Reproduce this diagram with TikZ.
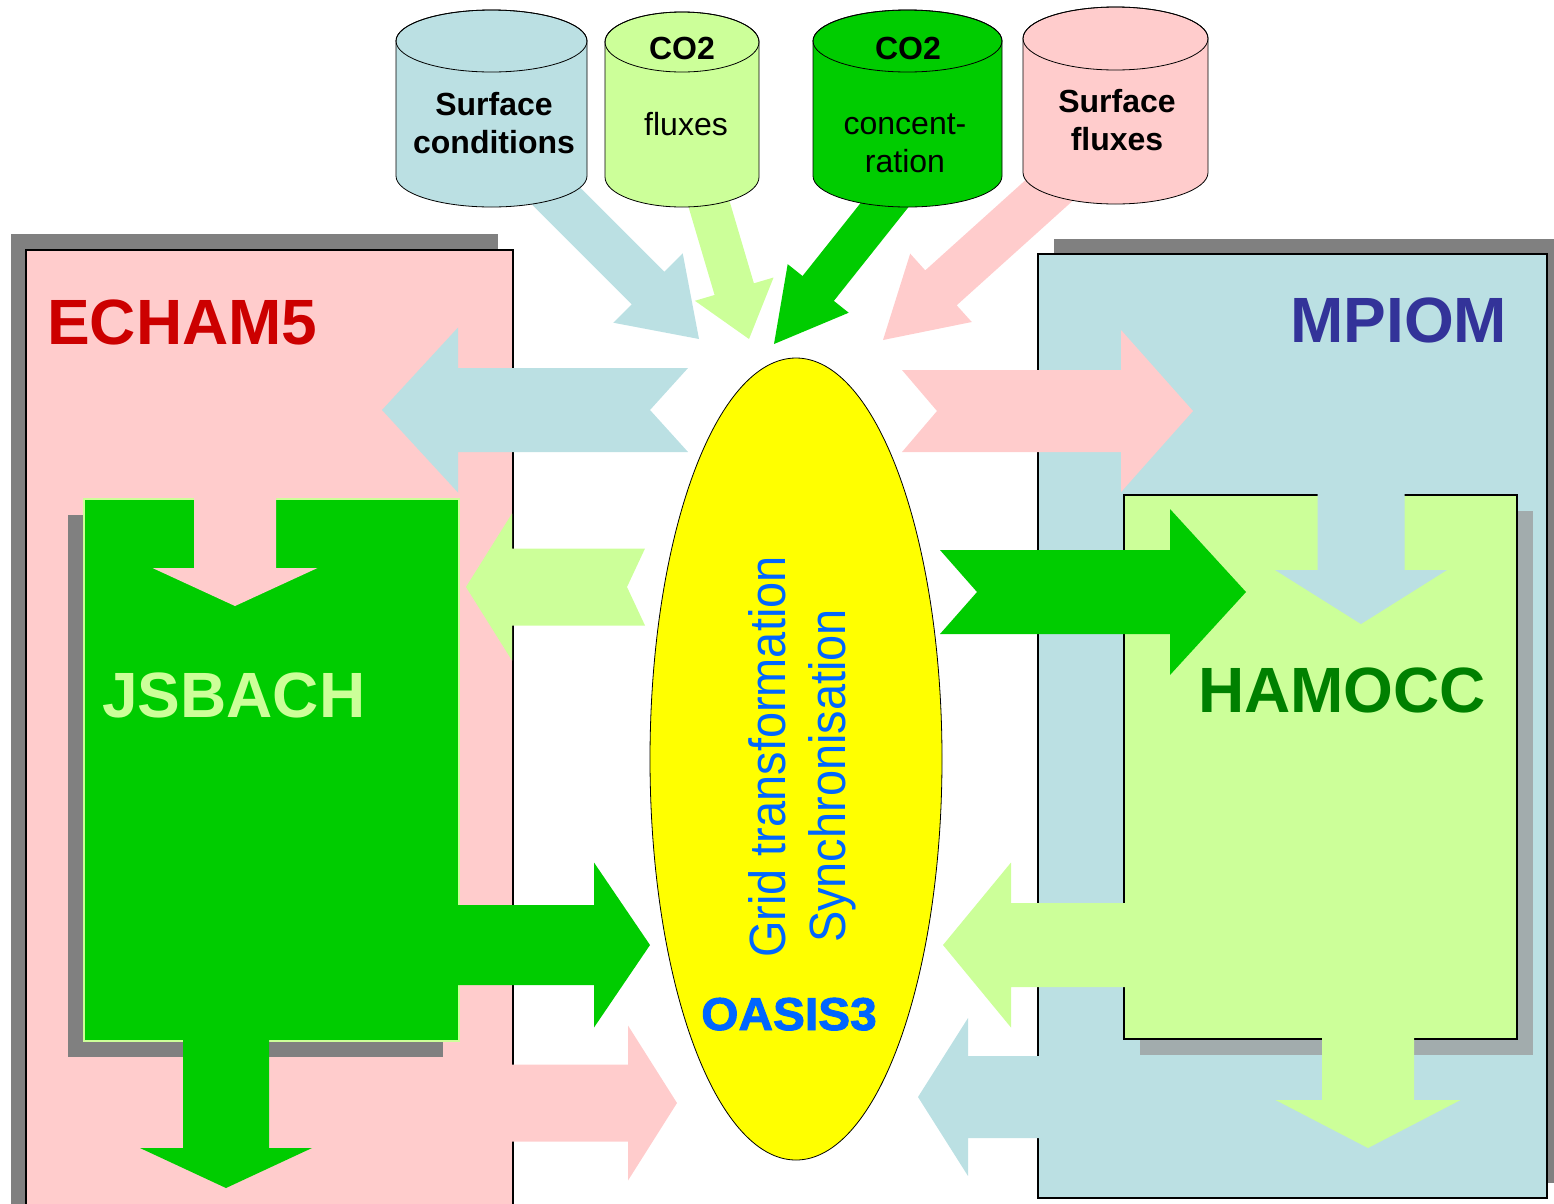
\documentclass[tikz,border=0pt]{standalone}
\usepackage{fontspec}
\setmainfont{Liberation Sans}
\newfontfamily\heavyfont[FakeBold=2]{Liberation Sans Bold}
\usepackage{tikz}
\usetikzlibrary{shapes.geometric, shadows, positioning}

\definecolor{atmo}{HTML}{FFCCCC}
\definecolor{ocean}{HTML}{BBE0E3}
\definecolor{leaf}{HTML}{CCFF99}
\definecolor{land}{HTML}{00CC00}
\definecolor{coupler}{HTML}{FFFF00}
\definecolor{shade}{HTML}{808080}
\definecolor{hamshade}{HTML}{A2ACAD}
\definecolor{echamred}{HTML}{CC0000}
\definecolor{mpiomblue}{HTML}{333399}
\definecolor{hamoccgreen}{HTML}{008000}
\definecolor{oasisblue}{HTML}{0066FF}

% fat block arrow: style, tip, angle, length, shaft half, head half, head length, notch
\newcommand{\fatarrow}[8]{%
  \fill[#1, shift={#2}, rotate=#3]
    (0,0) -- (-#7,#6) -- (-#7,#5) -- (-#4,#5) -- (-#4+#8,0)
    -- (-#4,-#5) -- (-#7,-#5) -- (-#7,-#6) -- cycle;}

% data store drum: fill, left, right, top centre, bottom centre, y radius
\newcommand{\drum}[6]{%
  \filldraw[fill=#1, draw=black, line width=0.8pt]
    (#2,#4) -- (#2,#5) arc[start angle=180, end angle=0, x radius={(#3-#2)/2}, y radius=#6]
    -- (#3,#4) arc[start angle=0, end angle=-180, x radius={(#3-#2)/2}, y radius=#6] -- cycle;
  \draw[line width=0.8pt] ({(#2+#3)/2},#4) ellipse[x radius={(#3-#2)/2}, y radius=#6];}

\begin{document}
\begin{tikzpicture}[x=1pt, y=-1pt,
    model/.style={rectangle, draw=black, line width=1.5pt, anchor=north west, inner sep=0pt},
    title/.style={anchor=base west, inner sep=0pt, font=\fontsize{64}{64}\selectfont\bfseries},
    store/.style={align=center, inner sep=0pt, font=\fontsize{32}{38}\selectfont},
    storehead/.style={anchor=base, inner sep=0pt, font=\fontsize{32}{38}\selectfont\bfseries},
    oasistext/.style={rotate=90, anchor=base, inner sep=0pt, text=oasisblue, font=\fontsize{51}{51}\selectfont}
]
\clip (0,0) rectangle (1554,1203);

% fluxes out of the data stores
\fatarrow{ocean}{(699,339)}{-45}{240}{23}{49}{72}{0}
\fatarrow{leaf}{(749,339)}{-73.5}{165}{20.5}{41}{52}{0}
\fatarrow{land}{(774,344)}{-128.5}{205}{20}{39}{71}{0}
\fatarrow{atmo}{(883,340)}{-138}{250}{23.5}{46}{78}{0}

\drum{ocean}{396}{587}{41}{176}{31}
\drum{leaf}{605}{759}{42}{177}{30}
\drum{land}{813}{1002}{41}{176}{31}
\drum{atmo}{1023}{1208}{38.5}{172.5}{31.5}

\node[store, font=\fontsize{32}{38}\selectfont\bfseries] (sfccond) at (494,123) {Surface\\conditions};
\node[storehead] (co2a) at (682,59) {CO2};
\node[store, anchor=base] (co2flux) at (686,135) {fluxes};
\node[storehead] (co2b) at (908,59) {CO2};
\node[store] (co2conc) at (905,143) {concent-\\ration};
\node[store, font=\fontsize{32}{38}\selectfont\bfseries] (sfcflux) at (1117,120) {Surface\\fluxes};

% component models
\node[model, fill=atmo, minimum width=487, minimum height=970,
  drop shadow={shadow xshift=-15pt, shadow yshift=16pt, fill=shade, opacity=1}] (echam) at (25,249) {};
\node[model, fill=ocean, minimum width=509, minimum height=944,
  drop shadow={shadow xshift=16pt, shadow yshift=15pt, fill=shade, opacity=1}] (mpiom) at (1037,253) {};
\node[model, draw=leaf, fill=land, minimum width=375, minimum height=542,
  drop shadow={shadow xshift=-16pt, shadow yshift=-16pt, fill=shade, opacity=1}] (jsbach) at (83,498) {};
\node[model, fill=leaf, minimum width=393, minimum height=544,
  drop shadow={shadow xshift=16pt, shadow yshift=-16pt, fill=hamshade, opacity=1}] (hamocc) at (1123,494) {};

% exchanges through the coupler
\fatarrow{ocean}{(382,410)}{180}{306}{42}{82.5}{76}{38}
\fatarrow{atmo}{(1193,411)}{0}{291}{41}{81}{72}{35}
\fatarrow{leaf}{(466,587)}{180}{179}{38.5}{73.5}{46}{18}
\fatarrow{land}{(1246,592)}{0}{306}{42}{83}{76}{37}
\fatarrow{land}{(650,945)}{0}{250}{40}{82.5}{56}{0}
\fatarrow{atmo}{(677,1103)}{0}{200}{38.5}{77.5}{49}{0}
\fatarrow{leaf}{(943,945)}{180}{257}{42}{82.5}{68}{0}
\fatarrow{ocean}{(918,1097)}{180}{200}{41}{79}{50}{0}
\fatarrow{atmo}{(235,606)}{-90}{130}{41}{82.5}{38}{0}
\fatarrow{land}{(226,1188)}{-90}{190}{43}{86}{40}{0}
\fatarrow{ocean}{(1361,624)}{-90}{160}{43.5}{86}{54}{0}
\fatarrow{leaf}{(1368,1148)}{-90}{150}{46}{92.5}{48}{0}

\node[ellipse, draw=black, line width=0.8pt, fill=coupler, minimum width=292, minimum height=802] (oasis) at (796,759) {};
\node[oasistext] (gridtr) at (785,757) {\scalebox{0.92}[1]{Grid transformation}};
\node[oasistext] (synchr) at (845,776) {\scalebox{0.92}[1]{Synchronisation}};
\node[anchor=base, inner sep=0pt, text=oasisblue, font=\fontsize{46}{46}\selectfont\heavyfont] (oasislbl) at (789,1030) {\scalebox{1.04}[1]{OASIS3}};

\node[title, text=echamred] (echamlbl) at (47,344) {ECHAM5};
\node[title, text=mpiomblue] (mpiomlbl) at (1290,342) {MPIOM};
\node[title, text=leaf] (jsbachlbl) at (102,717) {JSBACH};
\node[title, text=hamoccgreen] (hamocclbl) at (1198,712) {HAMOCC};
\end{tikzpicture}
\end{document}
